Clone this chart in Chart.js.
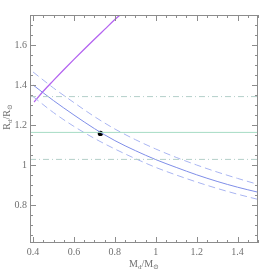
<!DOCTYPE html>
<html>
<head>
<meta charset="utf-8">
<script src="https://cdn.jsdelivr.net/npm/chart.js@4.4.0/dist/chart.umd.min.js"></script>
<style>
html,body{margin:0;padding:0;background:#fff;}
#wrap{width:273px;height:273px;}
</style>
</head>
<body>
<div id="wrap"><canvas id="c" width="273" height="273"></canvas></div>
<script>
// ---- data ----
const massGrid      = [0.40, 0.50, 0.60, 0.70, 0.80, 0.90, 1.00, 1.10, 1.20, 1.30, 1.40, 1.50];
const radiusBest    = [1.400, 1.322, 1.250, 1.182, 1.122, 1.072, 1.027, 0.988, 0.951, 0.918, 0.889, 0.864];
const radiusUpper   = [1.465, 1.385, 1.312, 1.242, 1.180, 1.127, 1.080, 1.038, 1.000, 0.965, 0.933, 0.903];
const radiusLower   = [1.342, 1.262, 1.193, 1.133, 1.080, 1.032, 0.988, 0.950, 0.915, 0.883, 0.854, 0.828];
const purpleMass    = [0.405, 0.45, 0.50, 0.55, 0.60, 0.65, 0.70, 0.75, 0.80, 0.825];
const purpleRadius  = [1.315, 1.369, 1.423, 1.476, 1.528, 1.579, 1.629, 1.678, 1.727, 1.750];
const hLineSolid    = [1.163];
const hLineDashDot  = [1.342, 1.028];
const starMass      = [0.729];
const starRadius    = [1.158];
const xTickValues   = [0.4, 0.6, 0.8, 1.0, 1.2, 1.4];
const xTickLabels   = ["0.4", "0.6", "0.8", "1", "1.2", "1.4"];
const yTickValues   = [0.8, 1.0, 1.2, 1.4, 1.6];
const yTickLabels   = ["0.8", "1", "1.2", "1.4", "1.6"];
const xRange = [0.385, 1.5];
const yRange = [0.61, 1.75];

function pts(xs, ys){ return xs.map((x,i)=>({x:x, y:ys[i]})); }
function hline(y){ return [{x:xRange[0], y:y},{x:xRange[1], y:y}]; }

const serif = '"Liberation Serif","DejaVu Serif",serif';
const frameColor = '#8c8c8c';
const textColor = '#707070';

function drawParts(ctx, parts, cx, cy){
  const big = '10px ' + serif, small = '7px ' + serif;
  let total = 0;
  parts.forEach(p=>{ ctx.font = p.sub ? small : big; p.w = ctx.measureText(p.t).width; total += p.w; });
  let x = cx - total/2;
  ctx.textAlign = 'left';
  ctx.textBaseline = 'middle';
  parts.forEach(p=>{
    ctx.font = p.sub ? small : big;
    ctx.fillText(p.t, x, p.sub ? cy + 3 : cy);
    x += p.w;
  });
}

const framePlugin = {
  id: 'frame',
  afterDatasetsDraw(chart){
    const ctx = chart.ctx, a = chart.chartArea;
    const xs = chart.scales.x, ys = chart.scales.y;
    ctx.save();
    ctx.strokeStyle = frameColor;
    ctx.lineWidth = 1;
    ctx.setLineDash([]);
    ctx.strokeRect(a.left + 0.5, a.top + 0.5, a.right - a.left - 1, a.bottom - a.top - 1);
    ctx.beginPath();
    for (let k = 8; k <= 30; k++) {
      const v = k * 0.05;
      if (v < xRange[0] || v > xRange[1] + 1e-9) continue;
      const major = xTickValues.some(t => Math.abs(t - v) < 1e-6);
      const len = major ? 6 : 3;
      const px = Math.round(xs.getPixelForValue(v)) + 0.5;
      ctx.moveTo(px, a.bottom); ctx.lineTo(px, a.bottom - len);
      ctx.moveTo(px, a.top); ctx.lineTo(px, a.top + len);
    }
    for (let k = 13; k <= 35; k++) {
      const v = k * 0.05;
      if (v < yRange[0] || v > yRange[1]) continue;
      const major = yTickValues.some(t => Math.abs(t - v) < 1e-6);
      const len = major ? 6 : 3;
      const py = Math.round(ys.getPixelForValue(v)) + 0.5;
      ctx.moveTo(a.left, py); ctx.lineTo(a.left + len, py);
      ctx.moveTo(a.right, py); ctx.lineTo(a.right - len, py);
    }
    ctx.stroke();

    ctx.fillStyle = textColor;
    ctx.font = '10px ' + serif;
    ctx.textAlign = 'center';
    ctx.textBaseline = 'top';
    xTickValues.forEach((v,i)=>{
      ctx.fillText(xTickLabels[i], xs.getPixelForValue(v), a.bottom + 4);
    });
    ctx.textAlign = 'right';
    ctx.textBaseline = 'middle';
    yTickValues.forEach((v,i)=>{
      ctx.fillText(yTickLabels[i], a.left - 3, ys.getPixelForValue(v));
    });

    drawParts(ctx, [{t:'M'},{t:'d',sub:true},{t:'/M'},{t:'\u2299',sub:true}], (a.left + a.right)/2, a.bottom + 21);
    ctx.save();
    ctx.translate(7, (a.top + a.bottom)/2 - 12);
    ctx.rotate(-Math.PI/2);
    drawParts(ctx, [{t:'R'},{t:'d',sub:true},{t:'/R'},{t:'\u2299',sub:true}], 0, 0);
    ctx.restore();
    ctx.restore();
  }
};

const lineBase = {showLine:true, pointRadius:0, borderWidth:1, fill:false, tension:0.4, cubicInterpolationMode:'monotone'};

new Chart(document.getElementById('c'), {
  type: 'scatter',
  data: {
    datasets: [
      Object.assign({}, lineBase, {label:'solid', data: hline(hLineSolid[0]), borderColor:'#a6dcc4', tension:0}),
      Object.assign({}, lineBase, {label:'dd1', data: hline(hLineDashDot[0]), borderColor:'#b3cfc9', borderDash:[6,3,1,3], tension:0}),
      Object.assign({}, lineBase, {label:'dd2', data: hline(hLineDashDot[1]), borderColor:'#b3cfc9', borderDash:[6,3,1,3], tension:0}),
      Object.assign({}, lineBase, {label:'upper', data: pts(massGrid, radiusUpper), borderColor:'#a9b5f2', borderDash:[7,4]}),
      Object.assign({}, lineBase, {label:'lower', data: pts(massGrid, radiusLower), borderColor:'#a9b5f2', borderDash:[7,4]}),
      Object.assign({}, lineBase, {label:'best', data: pts(massGrid, radiusBest), borderColor:'#7f8ee8'}),
      Object.assign({}, lineBase, {label:'purple', data: pts(purpleMass, purpleRadius), borderColor:'#b464f0', borderWidth:1.3}),
      {label:'star', data: pts(starMass, starRadius), pointRadius:2.6, borderWidth:0, pointBackgroundColor:'#000', pointBorderColor:'#000', showLine:false}
    ]
  },
  options: {
    responsive: false,
    devicePixelRatio: 1,
    animation: false,
    layout: {padding: {left: 30, top: 15, right: 15, bottom: 30}},
    plugins: {legend: {display:false}, tooltip: {enabled:false}},
    scales: {
      x: {type:'linear', min:xRange[0], max:xRange[1], display:false},
      y: {type:'linear', min:yRange[0], max:yRange[1], display:false}
    }
  },
  plugins: [framePlugin]
});
</script>
</body>
</html>
